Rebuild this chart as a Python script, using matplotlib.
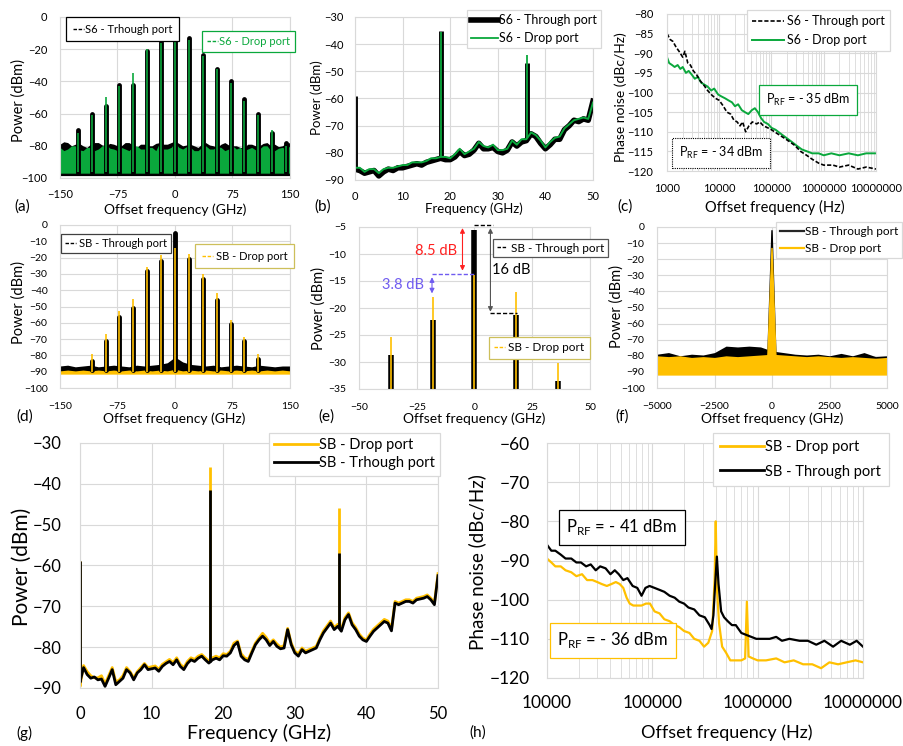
import numpy as np
import matplotlib.pyplot as plt
from matplotlib.lines import Line2D
from matplotlib.ticker import FuncFormatter, LogLocator, NullFormatter

plt.rcParams['font.family'] = ['Lato', 'DejaVu Sans']
plt.rcParams['mathtext.fontset'] = 'custom'
plt.rcParams['mathtext.rm'] = 'Lato'

W, H = 904, 746
GREEN = '#0AA83C'
GOLD = '#FFC000'
GRID = '#D9D9D9'

# ---------------- data ----------------
# (a) S6 comb, optical spectrum
a_comb_f = [-126.7, -108.6, -90.5, -72.4, -54.3, -36.2, -18.1, 0, 18.1, 36.2, 54.3, 72.4, 90.5, 108.6, 126.7, 144.8]
a_thr_peak = [-70, -60.5, -55, -42.5, -42.5, -21, -15.5, -5, -13, -23.5, -32, -40, -51, -60.5, -72, -78]
a_drop_peak = [-72, -61, -50, -43, -34.5, -20, -16, -12, -14, -24, -32.5, -41, -52, -61, -70, -80]
a_floor_f = np.arange(-150, 151, 5)
a_thr_floor_hi = [-79, -77.5, -78, -80, -79, -78.5, -80, -81, -79, -78, -78, -79.5, -80, -78.5, -79, -80,
                  -80, -78, -78, -79.5, -81, -79, -79, -80, -80, -78.5, -78, -79, -79, -78, -77,
                  -78.5, -80, -79.5, -79, -80, -81, -79, -78, -79.5, -80, -81, -79, -78, -79.5, -80,
                  -80, -81, -81, -79, -79, -80, -80, -78.5, -78, -80, -79, -80.5, -80, -78.5, -78]
a_drop_floor_hi = [-81, -83, -82, -80, -80, -82.5, -83, -81, -81, -83, -82, -80, -79, -81.5, -82, -83,
                   -81, -82, -83, -80.5, -80, -82, -82, -81, -81, -83, -78, -82, -82, -81, -78,
                   -81, -82, -80.5, -81, -83, -83, -81, -80, -82, -82, -80.5, -81, -83, -82, -80,
                   -82, -81, -83, -82, -81, -82.5, -82, -80, -80, -83, -83, -81.5, -81, -82, -80]

# (b) S6 RF spectrum
rf_f = np.arange(0, 51, 1)
b_thr = [-86, -86.5, -87.5, -87, -86.5, -88.5, -87, -86, -86.5, -85.5, -85.5, -85, -84.5, -84, -84.5,
         -83.5, -83, -82.5, -82, -82.5, -82.5, -81.5, -79.5, -81, -80.5, -79, -76.5, -78.5, -78.5, -78,
         -79.5, -80, -79, -76, -77.5, -76, -75.5, -73, -74, -76.5, -78.5, -77, -75, -75, -71.5, -70,
         -68, -68.5, -67.5, -68, -61]
b_drop = [-85.5, -85.5, -87, -86, -86, -87.5, -86, -85.5, -85.5, -85, -84.5, -84.5, -83.5, -83.5, -83.5,
          -83, -82, -82, -81.5, -81.5, -82, -80.5, -78.5, -80.5, -79.5, -78.5, -76, -77.5, -78, -77,
          -79, -79, -78.5, -75.5, -77, -75, -75, -72.5, -73.5, -75.5, -78, -76, -74.5, -74, -71, -69.5,
          -68, -67.5, -67, -67.5, -61.5]
spike_f = [0, 18.1, 36.2]
b_thr_spike = [-59, -35, -47]
b_drop_spike = [-59.5, -35.5, -44]

# (c) S6 phase noise
c_thr_f = [1000, 1150, 1300, 1500, 1700, 2000, 2200, 2500, 2800, 3200, 3700, 4300, 5000, 6000, 7000, 8500,
           10000, 12000, 14000, 16500, 19000, 22000, 25000, 28000, 32000, 37000, 43000, 52000, 60000, 70000,
           85000, 100000, 130000, 170000, 220000, 280000, 360000, 470000, 600000, 800000, 1000000, 1500000,
           2000000, 3000000, 4500000, 6500000, 10000000]
c_thr = [-85, -86.5, -87, -88.5, -89.5, -91, -89.5, -92.5, -93, -94.5, -95.5, -97, -98, -99.5, -100.5, -101.5,
         -102, -103.5, -105, -105.5, -107, -107.5, -108.5, -107.5, -110, -108.5, -107.5, -108, -107.5, -108.5,
         -109, -109.5, -110.5, -111.5, -112.5, -113.5, -115, -116, -117, -118, -118.5, -118.5,
         -119, -118.5, -119.5, -119, -119.5]
c_drop_f = [1000, 1100, 1250, 1400, 1600, 1800, 2000, 2300, 2600, 3000, 3400, 3900, 4500, 5200, 6000, 7000,
            8000, 9500, 11000, 13000, 15000, 17500, 20000, 23000, 27000, 31000, 36000, 42000, 48000, 55000,
            63000, 72000, 85000, 100000, 120000, 150000, 190000, 240000, 300000, 380000, 480000, 600000,
            800000, 1000000, 1400000, 2000000, 3000000, 4500000, 6500000, 10000000]
c_drop = [-91, -92.5, -93, -93.5, -93, -94, -93.5, -95, -94.5, -95.5, -96.5, -96, -97.5, -98, -98.5, -99.5,
          -99, -100.5, -101, -101.5, -102, -102.5, -103.5, -103, -104.5, -105, -105.5, -104.5, -104, -105,
          -106.5, -107.5, -108, -109, -109.5, -110.5, -111.5, -112.5, -113.5, -114.5, -115, -115.5,
          -115.5, -116, -115.5, -116, -115.5, -116, -115.5, -115.5]

# (d) SB comb, optical spectrum
d_comb_f = [-108.6, -90.5, -72.4, -54.3, -36.2, -18.1, 0, 18.1, 36.2, 54.3, 72.4, 90.5, 108.6]
d_thr_peak = [-83.5, -71, -56.5, -51, -28.5, -22, -5, -21, -33, -46, -61, -71, -82.5]
d_drop_peak = [-79, -67, -52.5, -45.5, -25.5, -18.5, -14, -17.5, -30, -42, -58, -69, -79]
d_floor_f = np.arange(-150, 151, 10)
d_thr_floor_hi = [-86.5, -86, -87, -86.5, -86, -87, -86.5, -86, -86.5, -87, -86, -86.5, -86, -85.5, -84.5,
                  -81, -84, -85.5, -86, -86.5, -86, -87, -86.5, -86, -86.5, -87, -86, -86.5, -87, -86.5, -86.5]
d_drop_floor_hi = [-89.5, -89, -89.5, -89, -89.5, -89, -89.5, -89, -89.5, -89, -89.5, -89, -89.5, -89, -89.5,
                   -88.5, -89.5, -89, -89.5, -89, -89.5, -89, -89.5, -89, -89.5, -89, -89.5, -89, -89.5, -89, -89.5]

# (e) zoom on the central lines
e_comb_f = [-36.2, -18.1, 0, 18.1, 36.2]
e_thr_peak = [-28.7, -22.3, -5.5, -21.3, -33.5]
e_drop_peak = [-25.3, -18, -13.8, -17, -30.2]

# (f) SB wide span
f_floor_f = np.arange(-5000, 5001, 500)
f_thr_floor_hi = [-79, -78, -80, -79, -79.5, -78, -74, -74.5, -74, -74.5, -77, -78, -79, -79.5, -79, -80,
                  -78.5, -80, -78, -80.5, -80]
f_drop_floor_hi = [-80, -80.5, -80, -81, -80.5, -81, -80, -80.5, -80, -79.5, -79, -79.5, -80, -80.5, -80,
                   -80.5, -81, -80.5, -81, -81.5, -81]
f_peak_f = [-180, 0, 170]
f_thr_peak = [-80, -2, -80]
f_drop_peak = [-80, -13, -80]

# (g) SB RF spectrum
g_f = np.arange(0, 50.5, 0.5)
g_thr = [-88.5, -85, -86.7, -87.6, -87.3, -88, -87.8, -89.6, -87.6, -85.5,
         -89.2, -88.4, -87.6, -85.5, -86.3, -88, -86.3, -85.5, -84.3, -85.5,
         -85.3, -85.1, -85.9, -84.7, -84, -83.5, -84.3, -83.1, -84.7, -85.5,
         -84, -83.1, -83.5, -82.7, -82.2, -83.1, -83.9, -83.1, -82.7, -83.1,
         -82.1, -82.2, -81.4, -79.6, -78.8, -82.2, -83.1, -83.5, -81.4, -79.4,
         -78.2, -77.3, -78.2, -79.6, -78.6, -79.8, -80.4, -80.2, -75.7, -79.4,
         -81.4, -82.2, -80.6, -81.4, -81, -80.6, -80.2, -78.2, -76.5, -75.3,
         -74.1, -75.7, -74.9, -76.1, -73.3, -72, -74.5, -75.7, -77.3, -78.2,
         -78.6, -77.3, -76.1, -75.3, -74.5, -73.7, -74.1, -76, -69.2, -69.6,
         -69.2, -68.8, -68.8, -69.2, -68.4, -68.2, -68, -67.6, -68.4, -69.6,
         -62.5]
g_drop = [-89.5, -84.5, -86, -87, -87.5, -87.5, -87, -89, -87, -85,
          -88.5, -88, -87, -85, -86, -87.5, -86, -85, -84, -85,
          -84.8, -84.6, -85.4, -84.2, -83.6, -83, -83.8, -82.6, -84.2, -85,
          -83.5, -82.6, -83, -82.2, -81.8, -82.6, -83.4, -82.6, -82.2, -82.6,
          -81.6, -81.8, -81, -79, -78.5, -81.6, -82.6, -83, -81, -79,
          -77.8, -76.6, -77.6, -79, -78.2, -79.2, -80, -79.6, -75.4, -79,
          -81, -81.6, -80.2, -81, -80.6, -80.2, -79.8, -77.8, -76, -74.8,
          -73.6, -75.2, -74.4, -75.6, -72.8, -71.6, -74, -75.2, -76.8, -77.8,
          -78.2, -76.8, -75.6, -74.8, -74, -73.2, -73.6, -75.5, -68.8, -69.2,
          -68.8, -68.4, -68.4, -68.8, -68, -67.8, -67.6, -67.2, -68, -69.2,
          -62]
g_thr_spike = [-59, -41.5, -57]
g_drop_spike = [-59, -36, -46]

# (h) SB phase noise
h_thr_f = [10000, 11000, 12000, 13500, 15000, 17000, 19000, 21000, 23500, 26000, 29000, 32000, 36000, 40000,
           44000, 48000, 53000, 58000, 65000, 72000, 79000, 86000, 94000, 105000, 117000, 130000, 146000,
           163000, 180000, 200000, 220000, 250000, 280000, 315000, 350000, 365000, 380000, 395000, 410000,
           425000, 450000, 480000, 520000, 570000, 620000, 700000, 780000, 870000, 970000, 1100000, 1300000,
           1500000, 1700000, 2000000, 2500000, 3000000, 3600000, 4300000, 5200000, 6200000, 7500000, 8700000,
           10000000]
h_thr = [-86, -87.5, -87.5, -88.5, -89.5, -89.5, -90.5, -90.5, -91.5, -91, -92.5, -91.5, -92, -93.5,
         -92.5, -93.5, -95, -94.5, -96.5, -97, -99, -97, -96.5, -97, -97.5, -98, -99,
         -99.5, -100.5, -101, -102, -102.5, -104, -104.5, -106.5, -107.5, -104, -96, -89,
         -96, -103, -104.5, -105.5, -106.5, -106.5, -108.5, -109, -109.5, -110, -110, -110,
         -109.5, -110.5, -110, -110.5, -110.5, -111.5, -110.5, -112, -110.5, -111.5, -110.5,
         -112]
h_drop_f = [10000, 11000, 12000, 13500, 15000, 17000, 19000, 21500, 24000, 27000, 30000, 33000, 37000, 41000,
            45000, 49000, 53000, 57000, 61000, 66000, 72000, 79000, 87000, 95000, 105000, 117000, 130000,
            146000, 163000, 180000, 200000, 225000, 250000, 280000, 310000, 340000, 370000, 390000, 400000,
            410000, 430000, 460000, 500000, 550000, 620000, 700000, 760000, 790000, 820000, 900000, 1000000,
            1200000, 1500000, 1800000, 2200000, 2700000, 3300000, 4000000, 4800000, 5800000, 7000000, 8500000,
            10000000]
h_drop = [-89.5, -90.5, -91.5, -91.5, -92.5, -93, -94, -93.5, -95, -95, -95.5, -96, -96.5, -96,
          -95.5, -96, -97, -99.5, -101, -101.5, -101.5, -101.5, -101, -101, -103, -103.5, -105,
          -105.5, -106.5, -107, -108, -108.5, -110, -110.5, -112, -111, -108, -95, -80,
          -97, -106, -112, -113.5, -115.5, -115.5, -115.5, -115, -100.5, -114.5, -115, -115.5,
          -115.5, -115, -116, -115.5, -116.5, -116.5, -117.5, -116, -116.5, -116, -115.5,
          -116]

# ---------------- helpers ----------------
fig = plt.figure(figsize=(W / 100, H / 100), dpi=100)


def px_axes(x0, y0, x1, y1):
    return fig.add_axes([x0 / W, 1 - y1 / H, (x1 - x0) / W, (y1 - y0) / H])


def ftext(x, y, s, **kw):
    fig.text(x / W, 1 - y / H, s, ha='center', va='center', **kw)


def style(ax, fs, xpad, ypad, log=False):
    ax.grid(True, which='major', color=GRID, lw=0.8)
    if log:
        ax.grid(True, which='minor', color=GRID, lw=0.6)
    ax.set_axisbelow(True)
    for sp in ax.spines.values():
        sp.set_color(GRID)
        sp.set_linewidth(0.8)
    ax.tick_params(which='both', length=0, labelsize=fs)
    ax.tick_params(axis='x', pad=xpad)
    ax.tick_params(axis='y', pad=ypad)


def set_log(ax):
    ax.set_xscale('log')
    ax.xaxis.set_major_locator(LogLocator(base=10))
    ax.xaxis.set_minor_locator(LogLocator(base=10, subs=np.arange(2, 10)))
    ax.xaxis.set_major_formatter(FuncFormatter(lambda v, _: f'{int(round(v))}'))
    ax.xaxis.set_minor_formatter(NullFormatter())


def box_legend(x, y, handles, labels, fs, edge, **kw):
    leg = fig.legend(handles, labels, loc='upper left', bbox_to_anchor=(x / W, 1 - y / H),
                     fontsize=fs, frameon=True, fancybox=False, framealpha=1, edgecolor=edge,
                     borderaxespad=0, **kw)
    leg.get_frame().set_linewidth(0.9)
    return leg


def dash(color):
    return Line2D([], [], color=color, ls=(0, (2.5, 1.2)), lw=1)


# ---------------- (a) ----------------
ax = px_axes(60, 17, 290, 178)
ax.fill_between(a_floor_f, a_thr_floor_hi, -98.5, color='k', lw=0)
ax.vlines(a_comb_f, -97, a_thr_peak, color='k', lw=3.5, capstyle='round')
ax.fill_between(a_floor_f, a_drop_floor_hi, -97, color=GREEN, lw=0)
ax.vlines(a_comb_f, -96, a_drop_peak, color=GREEN, lw=1.2)
ax.set_xlim(-150, 150)
ax.set_ylim(-100, 0)
ax.set_xticks([-150, -75, 0, 75, 150])
ax.set_yticks(range(-100, 1, 20))
style(ax, 8, 8, 9)
box_legend(66, 17, [dash('k')], ['S6 - Trhough port'], 8, 'k',
           handlelength=1.0, handletextpad=0.1, borderpad=0.6)
box_legend(202, 31, [dash(GREEN)], ['S6 - Drop port'], 8, GREEN,
           handlelength=1.0, handletextpad=0.1, borderpad=0.45, labelcolor=GREEN)

# ---------------- (b) ----------------
ax = px_axes(355, 17, 593, 180)
ax.plot(rf_f, b_thr, color='k', lw=4)
ax.vlines(spike_f, np.interp(spike_f, rf_f, b_thr), b_thr_spike, color='k', lw=3.5)
ax.plot(rf_f, b_drop, color=GREEN, lw=1.4)
ax.vlines(spike_f, np.interp(spike_f, rf_f, b_drop), b_drop_spike, color=GREEN, lw=1.3)
ax.set_xlim(0, 50)
ax.set_ylim(-90, -30)
ax.set_xticks(range(0, 51, 10))
ax.set_yticks(range(-90, -29, 10))
style(ax, 8, 8, 8)
box_legend(467, 10, [Line2D([], [], color='k', lw=4), Line2D([], [], color=GREEN, lw=1.3)],
           ['S6 - Through port', 'S6 - Drop port'], 9, GRID,
           handlelength=2.1, handletextpad=0.1, borderpad=0.35, labelspacing=0.45)

# ---------------- (c) ----------------
ax = px_axes(667, 14, 876, 171)
set_log(ax)
ax.plot(c_drop_f, c_drop, color=GREEN, lw=1.4)
ax.plot(c_thr_f, c_thr, color='k', lw=1.2, ls=(0, (2.5, 1.2)))
ax.set_xlim(1e3, 1e7)
ax.set_ylim(-120, -80)
ax.set_yticks(range(-120, -79, 5))
style(ax, 8, 9, 10, log=True)
box_legend(747, 10, [Line2D([], [], color='k', lw=1.2, ls=(0, (2.5, 1.2))), Line2D([], [], color=GREEN, lw=1.4)],
           ['S6 - Through port', 'S6 - Drop port'], 9, GRID,
           handlelength=2.6, handletextpad=0.2, borderpad=0.4, labelspacing=0.55)
ftext(808, 100, r'P$_{\mathrm{RF}}$ = - 35 dBm', fontsize=9,
      bbox=dict(boxstyle='square,pad=0.55', fc='white', ec=GREEN, lw=0.9))
ftext(721, 153, r'P$_{\mathrm{RF}}$ = - 34 dBm', fontsize=9,
      bbox=dict(boxstyle='square,pad=0.55', fc='white', ec='k', lw=0.8, ls=(0, (1, 1))))

# ---------------- (d) ----------------
ax = px_axes(60, 225, 290, 388)
ax.fill_between(d_floor_f, d_thr_floor_hi, -90.5, color='k', lw=0)
ax.vlines(d_comb_f, -89, d_thr_peak, color='k', lw=3.5, capstyle='round')
ax.fill_between(d_floor_f, d_drop_floor_hi, -91.5, color=GOLD, lw=0)
ax.vlines(d_comb_f, -90, d_drop_peak, color=GOLD, lw=1.2)
ax.set_xlim(-150, 150)
ax.set_ylim(-100, 0)
ax.set_xticks([-150, -75, 0, 75, 150])
ax.set_yticks(range(-100, 1, 10))
style(ax, 7.5, 10, 9)
box_legend(61, 234, [dash('k')], ['SB - Through port'], 8, '#404040',
           handlelength=1.0, handletextpad=0.3, borderpad=0.35)
box_legend(195, 244, [dash(GOLD)], ['SB - Drop port'], 8, '#CDBF5A',
           handlelength=1.0, handletextpad=0.3, borderpad=0.6)

# ---------------- (e) ----------------
ax = px_axes(359, 227, 590, 389)
ax.vlines(e_comb_f, -40, e_thr_peak, color='k', lw=4)
ax.vlines(e_comb_f, -40, e_drop_peak, color=GOLD, lw=1.2)
ax.set_xlim(-50, 50)
ax.set_ylim(-35, -5)
ax.set_xticks([-50, -25, 0, 25, 50])
ax.set_yticks(range(-35, -4, 5))
style(ax, 7.5, 10, 9)
ax.plot([0, 7.8], [-4.7, -4.7], color='k', lw=1, ls=(0, (3, 1.5)), clip_on=False)
ax.plot([6.6, 18.2], [-21, -21], color='k', lw=1, ls=(0, (3, 1.5)))
ax.plot([-18.6, 0], [-13.7, -13.7], color='#6F5BF0', lw=1, ls=(0, (3, 1.5)))
ax.annotate('', xy=(6.9, -20.7), xytext=(6.9, -5.2),
            arrowprops=dict(arrowstyle='<|-|>', color='#555555', lw=0.8, mutation_scale=7, shrinkA=0, shrinkB=0))
ax.annotate('', xy=(-5.2, -13.1), xytext=(-5.2, -5.2),
            arrowprops=dict(arrowstyle='<|-|>', color='#FF2020', lw=0.8, mutation_scale=7, shrinkA=0, shrinkB=0))
ax.annotate('', xy=(-18.4, -17.3), xytext=(-18.4, -14.3),
            arrowprops=dict(arrowstyle='<|-|>', color='#6F5BF0', lw=0.8, mutation_scale=7, shrinkA=0, shrinkB=0))
ax.text(-16.5, -9.4, '8.5 dB', color='#FF2020', fontsize=10.5, ha='center', va='center')
ax.text(-31, -15.8, '3.8 dB', color='#6F5BF0', fontsize=10.5, ha='center', va='center')
ax.text(16, -13, '16 dB', color='k', fontsize=10.5, ha='center', va='center')
box_legend(493, 239, [dash('k')], ['SB - Through port'], 8.5, '#555555',
           handlelength=0.9, handletextpad=0.3, borderpad=0.3)
box_legend(489, 337, [dash(GOLD)], ['SB - Drop port'], 8.5, '#CDBF5A',
           handlelength=0.9, handletextpad=0.3, borderpad=0.45)

# ---------------- (f) ----------------
ax = px_axes(657, 227, 887, 388)
ax.fill_between(f_floor_f, f_thr_floor_hi, -91, color='k', lw=0)
ax.fill(f_peak_f, f_thr_peak, color='k', lw=1)
ax.fill_between(f_floor_f, f_drop_floor_hi, -92, color=GOLD, lw=0)
ax.fill(f_peak_f, f_drop_peak, color=GOLD, lw=1)
ax.set_xlim(-5000, 5000)
ax.set_ylim(-100, 0)
ax.set_xticks([-5000, -2500, 0, 2500, 5000])
ax.set_yticks(range(-100, 1, 10))
style(ax, 7.5, 10, 9)
box_legend(776, 222, [Line2D([], [], color='#262626', lw=1.6), Line2D([], [], color=GOLD, lw=1.6)],
           ['SB - Through port', 'SB - Drop port'], 8.5, GRID,
           handlelength=2.0, handletextpad=0.1, borderpad=0.35, labelspacing=0.5)

# ---------------- (g) ----------------
ax = px_axes(80, 443, 438, 688)
ax.plot(g_f, g_drop, color=GOLD, lw=2)
ax.vlines(spike_f, np.interp(spike_f, g_f, g_drop), g_drop_spike, color=GOLD, lw=2)
ax.plot(g_f, g_thr, color='k', lw=2)
ax.vlines(spike_f, np.interp(spike_f, g_f, g_thr), g_thr_spike, color='k', lw=2)
ax.set_xlim(0, 50)
ax.set_ylim(-90, -30)
ax.set_xticks(range(0, 51, 10))
ax.set_yticks(range(-90, -29, 10))
style(ax, 12, 13, 13)
box_legend(269, 433, [Line2D([], [], color=GOLD, lw=2), Line2D([], [], color='k', lw=2)],
           ['SB - Drop port', 'SB - Trhough port'], 10.5, GRID,
           handlelength=3.0, handletextpad=0.1, borderpad=0.35, labelspacing=0.3)

# ---------------- (h) ----------------
ax = px_axes(547, 443, 863, 678)
set_log(ax)
ax.plot(h_drop_f, h_drop, color=GOLD, lw=1.6)
ax.plot(h_thr_f, h_thr, color='k', lw=1.6)
ax.set_xlim(1e4, 1e7)
ax.set_ylim(-120, -60)
ax.set_yticks(range(-120, -59, 10))
style(ax, 12.5, 12, 12, log=True)
box_legend(713, 433, [Line2D([], [], color=GOLD, lw=2), Line2D([], [], color='k', lw=2)],
           ['SB - Drop port', 'SB - Through port'], 10.5, GRID,
           handlelength=3.0, handletextpad=0.1, borderpad=0.5, labelspacing=0.7)
ftext(622, 527, r'P$_{\mathrm{RF}}$ = - 41 dBm', fontsize=12,
      bbox=dict(boxstyle='square,pad=0.45', fc='white', ec='k', lw=0.9))
ftext(613, 640, r'P$_{\mathrm{RF}}$ = - 36 dBm', fontsize=12,
      bbox=dict(boxstyle='square,pad=0.45', fc='white', ec=GOLD, lw=0.9))

# ---------------- axis titles and panel letters ----------------
ftext(19, 100, 'Power (dBm)', fontsize=10.5, rotation=90)
ftext(317, 98, 'Power (dBm)', fontsize=9.5, rotation=90)
ftext(621, 97, 'Phase noise (dBc/Hz)', fontsize=10, rotation=90)
ftext(19, 302, 'Power (dBm)', fontsize=10.5, rotation=90)
ftext(319, 308, 'Power (dBm)', fontsize=10.5, rotation=90)
ftext(617, 307, 'Power (dBm)', fontsize=10.5, rotation=90)
ftext(22, 567, 'Power (dBm)', fontsize=15, rotation=90)
ftext(477, 562, 'Phase noise (dBc/Hz)', fontsize=13.5, rotation=90)

ftext(175, 210, 'Offset frequency (GHz)', fontsize=10)
ftext(474, 209, 'Frequency (GHz)', fontsize=9.5)
ftext(775, 207, 'Offset frequency (Hz)', fontsize=10.5)
ftext(174, 419, 'Offset frequency (GHz)', fontsize=10)
ftext(474, 419, 'Offset frequency (GHz)', fontsize=10)
ftext(772, 419, 'Offset frequency (GHz)', fontsize=10)
ftext(259, 733, 'Frequency (GHz)', fontsize=14)
ftext(727, 733, 'Offset frequency (Hz)', fontsize=13)

for s, x, y in [('(a)', 22, 207), ('(b)', 323, 207), ('(c)', 625, 207), ('(d)', 25, 417),
                ('(e)', 326, 417), ('(f)', 622, 417), ('(g)', 24, 733), ('(h)', 478, 733)]:
    ftext(x, y, s, fontsize=11)

fig.savefig('out.png', dpi=100)
